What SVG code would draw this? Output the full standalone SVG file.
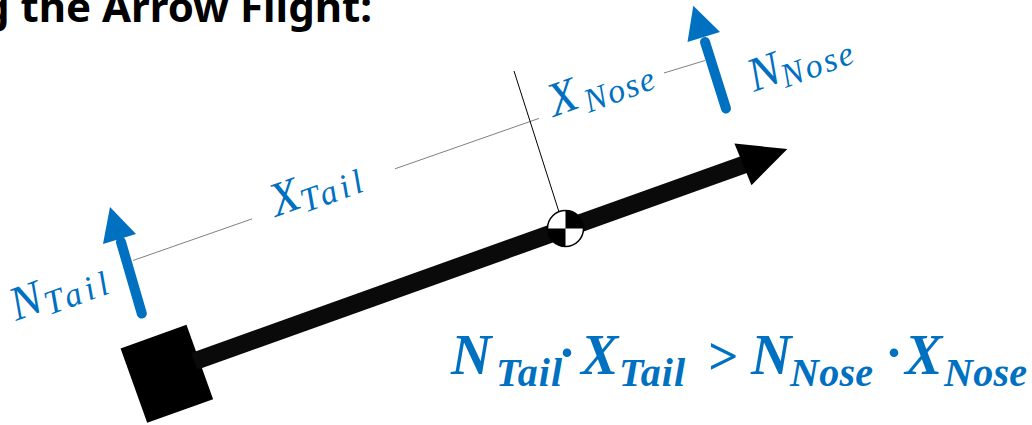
<svg xmlns="http://www.w3.org/2000/svg" width="1032" height="425" viewBox="0 0 1032 425">
<style>
.title{font-family:"Noto Sans","Open Sans",sans-serif;font-weight:bold;fill:#000}
.lbl{font-family:"Liberation Serif",serif;font-style:italic;fill:#0070C0}
.frm{font-family:"Liberation Serif",serif;font-style:italic;font-weight:bold;fill:#0070C0}
.dim{stroke:#808080;stroke-width:1;fill:none}
.force{stroke:#0070C0;stroke-width:10;stroke-linecap:round;fill:none}
.head{fill:#0070C0}
</style>
<rect width="1032" height="425" fill="#fff"/>
<g id="title">
<text class="title" x="372" y="22" font-size="42" text-anchor="end">g the Arrow Flight:</text>
</g>
<g id="connectors">
<line class="dim" x1="133" y1="260.5" x2="252" y2="218.9"/>
<line class="dim" x1="395" y1="168.8" x2="539" y2="118.4"/>
<line class="dim" x1="664" y1="73" x2="705" y2="60.5"/>
<line x1="559" y1="212" x2="514" y2="71" stroke="#000" stroke-width="1"/>
</g>
<g id="arrow-body" transform="translate(166,371.5) rotate(-19.7)">
<rect x="-35" y="-37" width="70" height="79" fill="#000"/>
<rect x="30" y="-9" width="586" height="18" fill="#0a0a0a"/>
<polygon points="612,-23 660,0 614,22" fill="#000"/>
</g>
<g id="cg">
<circle cx="565.5" cy="228.5" r="18" fill="#fff"/>
<path d="M565.5,228.5 L565.5,210.5 A18,18 0 0 1 583.5,228.5 Z" fill="#000"/>
<path d="M565.5,228.5 L565.5,246.5 A18,18 0 0 1 547.5,228.5 Z" fill="#000"/>
<circle cx="565.5" cy="228.5" r="18" fill="none" stroke="#000" stroke-width="1.5"/>
</g>
<g id="n-tail">
<line class="force" x1="141.8" y1="313.5" x2="121" y2="242"/>
<polygon class="head" points="110,207 136,234 103,244"/>
<g transform="translate(16,321) rotate(-20)">
<text class="lbl" font-size="48">N</text>
<text class="lbl" x="33" y="6" font-size="34" textLength="66" lengthAdjust="spacing">Tail</text>
</g>
</g>
<g id="x-tail">
<g transform="translate(276,217) rotate(-20)">
<text class="lbl" font-size="48">X</text>
<text class="lbl" x="29" y="6" font-size="34" textLength="64" lengthAdjust="spacing">Tail</text>
</g>
</g>
<g id="x-nose">
<g transform="translate(554,117) rotate(-20)">
<text class="lbl" font-size="48">X</text>
<text class="lbl" x="34" y="8" font-size="34" textLength="73" lengthAdjust="spacing">Nose</text>
</g>
</g>
<g id="n-nose">
<line class="force" x1="726" y1="108.5" x2="705" y2="42"/>
<polygon class="head" points="693.3,5.7 720,32 687.5,42"/>
<g transform="translate(754,92) rotate(-20)">
<text class="lbl" font-size="48">N</text>
<text class="lbl" x="31" y="7" font-size="34" textLength="75" lengthAdjust="spacing">Nose</text>
</g>
</g>
<g id="formula">
<text class="frm" x="451" y="374" font-size="56">N</text>
<text class="frm" x="496" y="386" font-size="40" textLength="66" lengthAdjust="spacing">Tail</text>
<text class="frm" x="560" y="370" font-size="53">·</text>
<text class="frm" x="581" y="374" font-size="56">X</text>
<text class="frm" x="619" y="386" font-size="40" textLength="66" lengthAdjust="spacing">Tail</text>
<text class="frm" x="707" y="374" font-size="53">&gt;</text>
<text class="frm" x="751" y="374" font-size="56">N</text>
<text class="frm" x="790" y="386" font-size="40" textLength="83" lengthAdjust="spacing">Nose</text>
<text class="frm" x="887" y="370" font-size="53">·</text>
<text class="frm" x="905" y="374" font-size="56">X</text>
<text class="frm" x="944" y="386" font-size="40" textLength="83" lengthAdjust="spacing">Nose</text>
</g>
</svg>
